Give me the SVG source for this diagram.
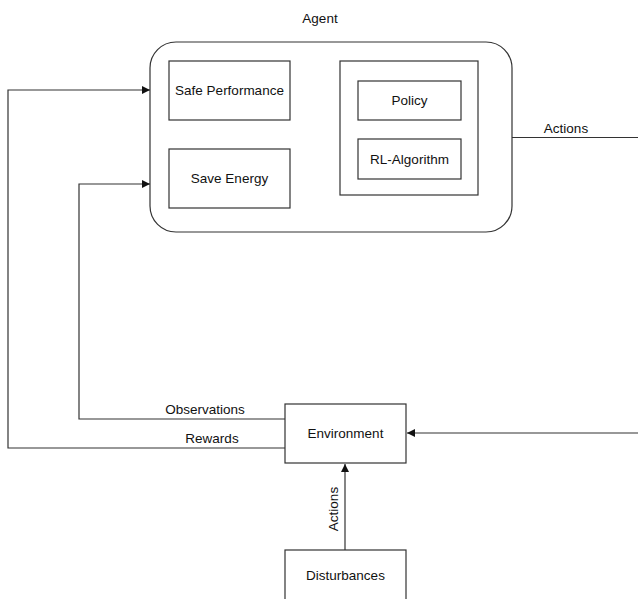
<svg xmlns="http://www.w3.org/2000/svg" width="638" height="599" viewBox="0 0 638 599">
<defs>
<style>
.box{fill:#fff;stroke:#333;stroke-width:1.2}
.ln{fill:none;stroke:#333;stroke-width:1.2}
.t{font-family:"Liberation Sans",Arial,sans-serif;font-size:13.5px;fill:#111;text-anchor:middle;dominant-baseline:central}
</style>
<marker id="arr" viewBox="0 0 10 10" refX="10" refY="5" markerWidth="8" markerHeight="8" markerUnits="userSpaceOnUse" orient="auto">
<path d="M0,0 L10,5 L0,10 z" fill="#111"/>
</marker>
</defs>
<rect width="638" height="599" fill="#fff"/>
<g id="connectors">
<polyline class="ln" points="512,137.5 640,137.5"/>
<polyline class="ln" points="640,433 407,433" marker-end="url(#arr)"/>
<polyline class="ln" points="285,419 79,419 79,184 150,184" marker-end="url(#arr)"/>
<polyline class="ln" points="285,448 8,448 8,90 150,90" marker-end="url(#arr)"/>
<polyline class="ln" points="345,550 345,464" marker-end="url(#arr)"/>
<text class="t" x="566" y="128">Actions</text>
<text class="t" x="205" y="409">Observations</text>
<text class="t" x="212" y="438">Rewards</text>
<text class="t" transform="translate(333,509) rotate(-90)" x="0" y="0">Actions</text>
</g>
<g id="agent">
<text class="t" x="320" y="18">Agent</text>
<rect class="box" x="150" y="42" width="362" height="190" rx="26"/>
</g>
<g id="safe-performance">
<rect class="box" x="169" y="61" width="121" height="59"/>
<text class="t" x="229.5" y="90">Safe Performance</text>
</g>
<g id="save-energy">
<rect class="box" x="169" y="149" width="121" height="59"/>
<text class="t" x="229.5" y="178">Save Energy</text>
</g>
<g id="rl-container">
<rect class="box" x="340" y="61" width="138" height="134"/>
</g>
<g id="policy">
<rect class="box" x="358" y="81" width="103" height="39"/>
<text class="t" x="409.5" y="100.5">Policy</text>
</g>
<g id="rl-algorithm">
<rect class="box" x="358" y="139" width="103" height="40"/>
<text class="t" x="409.5" y="159">RL-Algorithm</text>
</g>
<g id="environment">
<rect class="box" x="285" y="404" width="121" height="59"/>
<text class="t" x="345.5" y="433">Environment</text>
</g>
<g id="disturbances">
<rect class="box" x="285" y="550" width="121" height="60"/>
<text class="t" x="345.5" y="575">Disturbances</text>
</g>
</svg>
